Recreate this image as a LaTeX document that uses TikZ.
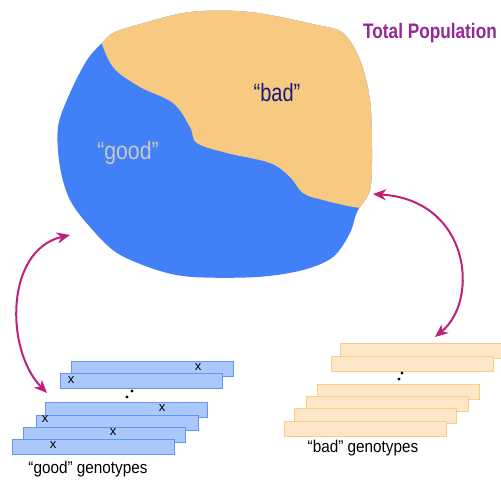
\documentclass[tikz,border=0pt]{standalone}
\usepackage{fontspec}
\usepackage{xcolor}
\usetikzlibrary{arrows.meta}
\newfontfamily\labelfont{Liberation Sans}
\definecolor{blob-blue}{RGB}{66, 128, 248}
\definecolor{blob-tan}{RGB}{248, 201, 128}
\definecolor{good-fill}{RGB}{170, 200, 250}
\definecolor{good-line}{RGB}{100, 150, 240}
\definecolor{bad-fill}{RGB}{253, 231, 200}
\definecolor{bad-line}{RGB}{248, 206, 135}
\definecolor{link-pink}{RGB}{192, 32, 120}
\definecolor{total-purple}{RGB}{150, 40, 150}
\definecolor{bad-text}{RGB}{20, 30, 130}
\definecolor{good-text}{RGB}{200, 200, 200}

\begin{document}
\begin{tikzpicture}[x=1pt, y=-1pt,
    goodbar/.style={draw=good-line, fill=good-fill, line width=0.8pt, minimum width=162pt, minimum height=15pt, inner sep=0pt},
    badbar/.style={draw=bad-line, fill=bad-fill, line width=0.8pt, minimum width=162pt, minimum height=15pt, inner sep=0pt},
    xmark/.style={font=\labelfont\fontsize{13}{13}\selectfont, inner sep=0pt},
    link/.style={draw=link-pink, line width=2pt, {Stealth[length=13pt,width=11pt,inset=4pt]}-{Stealth[length=13pt,width=11pt,inset=4pt]}},
    caption/.style={font=\labelfont\fontsize{17}{17}\selectfont, inner sep=0pt, xscale=0.9}]
                \useasboundingbox (0, 0) rectangle (501, 480);
                % the population
                \fill[blob-blue] plot[smooth cycle, tension=0.55] coordinates {(102,43) (113,33) (137,25) (190,12) (250,12) (317,25) (343,33) (360,60) (370,100) (372,150) (370,190) (357,212) (350,233) (333,257) (303,270) (257,277) (193,277) (157,270) (117,253) (90,227) (70,200) (60,167) (58,127) (70,93) (87,60)};
                \begin{scope}
                \clip plot[smooth cycle, tension=0.55] coordinates {(102,43) (113,33) (137,25) (190,12) (250,12) (317,25) (343,33) (360,60) (370,100) (372,150) (370,190) (357,212) (350,233) (333,257) (303,270) (257,277) (193,277) (157,270) (117,253) (90,227) (70,200) (60,167) (58,127) (70,93) (87,60)};
                \fill[blob-tan] (100,0) -- (100,38) -- plot[smooth, tension=0.6] coordinates {(100,38) (113,67) (140,87) (173,103) (190,127) (197,143) (227,153) (270,163) (290,177) (303,193) (323,200) (360,208) (400,210)} -- (400,0) -- cycle;
                \end{scope}
                \node[font=\labelfont\fontsize{25}{25}\selectfont, text=bad-text, xscale=0.8] (badlabel) at (277, 93) {“bad”};
                \node[font=\labelfont\fontsize{25}{25}\selectfont, text=good-text, xscale=0.85] (goodlabel) at (128, 153) {“good”};
                \node[font=\labelfont\bfseries\fontsize{21}{21}\selectfont, text=total-purple, xscale=0.82] (total) at (430, 33) {Total Population};
                % good genotypes
                \node[goodbar] (g1) at (152, 369) {};
                \node[goodbar] (g2) at (141, 381) {};
                \node[goodbar] (g3) at (126, 409.5) {};
                \node[goodbar] (g4) at (117, 423) {};
                \node[goodbar] (g5) at (104, 435) {};
                \node[goodbar] (g6) at (93, 447) {};
                \node[xmark] (gx1) at (198, 367) {x};
                \node[xmark] (gx2) at (71, 380) {x};
                \node[xmark] (gx3) at (162, 408) {x};
                \node[xmark] (gx4) at (45, 419) {x};
                \node[xmark] (gx5) at (113, 432) {x};
                \node[xmark] (gx6) at (53, 445) {x};
                \fill (132, 391) circle (1.6) (127, 397) circle (1.6);
                \node[caption] (goodcap) at (88, 469) {“good” genotypes};
                % bad genotypes
                \node[badbar] (b1) at (421, 350.5) {};
                \node[badbar] (b2) at (412, 364) {};
                \node[badbar] (b3) at (398, 392) {};
                \node[badbar] (b4) at (387, 404) {};
                \node[badbar] (b5) at (375, 416) {};
                \node[badbar] (b6) at (365, 429) {};
                \fill (402, 373) circle (1.6) (399, 379) circle (1.6);
                \node[caption] (badcap) at (363, 448) {“bad” genotypes};
                % links
                \coordinate (ga) at (70, 235);
                \coordinate (gb) at (47, 393);
                \coordinate (ba) at (373, 194);
                \coordinate (bb) at (435, 337);
                \draw[link] (ga) .. controls (5, 250) and (5, 350) .. (gb);
                \draw[link] (ba) .. controls (470, 200) and (480, 300) .. (bb);
            \end{tikzpicture}
\end{document}
